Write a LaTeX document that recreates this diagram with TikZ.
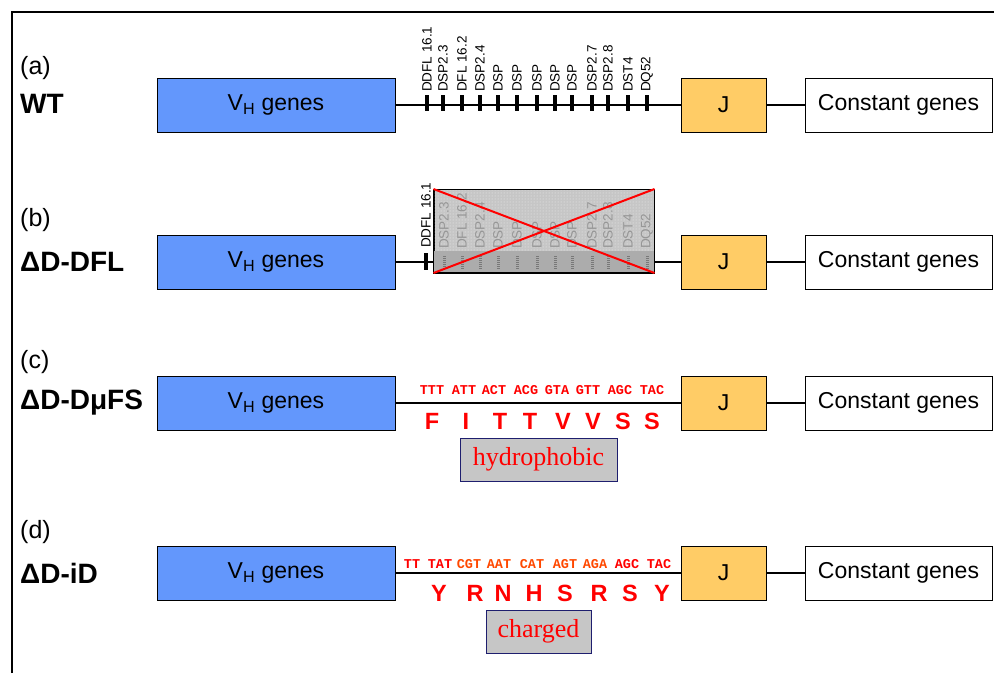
\documentclass[tikz,border=0pt]{standalone}
\usepackage{fontspec}
\setmainfont{Liberation Sans}
\newfontfamily\codonfont{Liberation Mono}
\newfontfamily\romanfont{Liberation Serif}
\usetikzlibrary{patterns,positioning}
\definecolor{vhblue}{RGB}{99,151,252}
\definecolor{jyellow}{RGB}{255,204,102}
\definecolor{delgray}{RGB}{198,198,198}
\definecolor{stripgray}{RGB}{172,172,172}
\definecolor{fadegray}{RGB}{150,150,150}
\definecolor{codonorange}{RGB}{255,72,0}
\definecolor{boxnavy}{RGB}{30,30,110}
\newcommand{\fsz}[1]{\fontsize{#1}{#1}\selectfont}
\tikzset{
  gene/.style={draw, line width=1pt, inner sep=0, minimum height=54, font=\fsz{23}},
  vbox/.style={gene, fill=vhblue, minimum width=238},
  jbox/.style={gene, fill=jyellow, minimum width=85},
  cbox/.style={gene, fill=white, minimum width=187},
  geneline/.style={line width=2.5pt},
  segtick/.style={line width=4pt},
  seglabel/.style={rotate=90, anchor=west, inner sep=0, font=\fsz{13.5}},
  fadelabel/.style={seglabel, text=fadegray},
  rowtag/.style={anchor=west, inner sep=0, font=\fsz{25}},
  rowname/.style={anchor=west, inner sep=0, font=\bfseries\fsz{28}},
  codon/.style={inner sep=0, font=\codonfont\bfseries\fsz{13.5}},
  amino/.style={inner sep=0, text=red, font=\bfseries\fsz{23.5}},
  propbox/.style={draw=boxnavy, line width=1pt, fill=delgray, inner sep=0,
    minimum height=43, text=red, font=\romanfont\fsz{26}},
  delbox/.style={draw, line width=1pt, inner sep=0, minimum width=220, minimum height=83}
}

\begin{document}
\begin{tikzpicture}[x=1pt,y=-1pt]
\useasboundingbox (0,0) rectangle (994,673);

% frame
\draw[line width=1.2pt] (12,673) -- (12,12) -- (994,12);

% (a) WT
\node[rowtag] (taga) at (20,68) {(a)};
\node[rowname] (namea) at (20,104) {WT};
\node[vbox] (va) at (276,105) {V\textsubscript{H} genes};
\node[jbox] (ja) at (723.5,105) {J};
\node[cbox] (ca) at (898.5,105) {Constant genes};
\draw[geneline] (va) -- (ja);
\draw[geneline] (ja) -- (ca);
\foreach \x/\lab [count=\i] in {427/DDFL 16.1, 443/DSP2.3, 462/DFL 16.2, 480/DSP2.4,
    498/DSP, 517/DSP, 537/DSP, 555/DSP, 572/DSP, 592/DSP2.7, 608/DSP2.8, 628/DST4, 647/DQ52}{
  \draw[segtick] (\x,95) -- (\x,111);
  \node[seglabel] (la\i) at (\x,92) {\lab};
}

% (b) deletion of the D cluster
\node[rowtag] (tagb) at (20,220) {(b)};
\node[rowname] (nameb) at (20,262) {ΔD-DFL};
\node[vbox] (vb) at (276,262) {V\textsubscript{H} genes};
\node[jbox] (jb) at (723.5,262) {J};
\node[cbox] (cb) at (898.5,262) {Constant genes};
\node[delbox, fill=delgray] (del) at (544,231) {};
\coordinate (dl) at (del.west |- vb);
\coordinate (dr) at (del.east |- vb);
\draw[geneline] (vb.east) -- (dl);
\draw[geneline] (dr) -- (jb.west);
\draw[geneline] (jb) -- (cb);
\draw[segtick] (426,253) -- (426,270);
\node[seglabel] (lb1) at (426,248) {DDFL 16.1};
\begin{scope}
  \clip (del.north west) rectangle (del.south east);
  \fill[pattern=dots, pattern color=white!75!delgray] (del.north west) rectangle (del.south east);
  \fill[stripgray] (434,251) rectangle (654,272);
  \foreach \x/\lab [count=\i] in {444/DSP2.3, 462/DFL 16.2, 480/DSP2.4, 498/DSP, 517/DSP,
      537/DSP, 555/DSP, 572/DSP, 592/DSP2.7, 608/DSP2.8, 628/DST4, 647/DQ52}{
    \draw[fadegray!80!black, line width=3pt, dash pattern=on 1pt off 1pt] (\x,256) -- (\x,270);
    \node[fadelabel] (fb\i) at (\x,249) {\lab};
  }
\end{scope}
\draw[line width=1pt] (del.north west) rectangle (del.south east);
\draw[red, line width=2pt] (del.north west) -- (del.south east);
\draw[red, line width=2pt] (del.south west) -- (del.north east);

% (c) frame-shifted D
\node[rowtag] (tagc) at (20,362) {(c)};
\node[rowname] (namec) at (20,403) {ΔD-DμFS};
\node[vbox] (vc) at (276,403) {V\textsubscript{H} genes};
\node[jbox] (jc) at (723.5,403) {J};
\node[cbox] (cc) at (898.5,403) {Constant genes};
\draw[geneline] (vc) -- (jc);
\draw[geneline] (jc) -- (cc);
\foreach \x/\cod [count=\i] in {432/TTT, 464/ATT, 494/ACT, 526/ACG, 557/GTA, 588/GTT, 620/AGC, 652/TAC}
  \node[codon, text=red] (kc\i) at (\x,390) {\cod};
\foreach \x/\aa [count=\i] in {432/F, 466/I, 500/T, 530/T, 563/V, 593/V, 623/S, 652/S}
  \node[amino] (ac\i) at (\x,421) {\aa};
\node[propbox, minimum width=157] (hyd) at (538.5,459.5) {hydrophobic};

% (d) inverted D
\node[rowtag] (tagd) at (20,532) {(d)};
\node[rowname] (named) at (20,573) {ΔD-iD};
\node[vbox] (vd) at (276,573) {V\textsubscript{H} genes};
\node[jbox] (jd) at (723.5,573) {J};
\node[cbox] (cd) at (898.5,573) {Constant genes};
\draw[geneline] (vd) -- (jd);
\draw[geneline] (jd) -- (cd);
\foreach \x/\cod/\col [count=\i] in {412/TT/red, 440/TAT/red, 469/CGT/codonorange, 499/AAT/codonorange,
    532/CAT/codonorange, 565/AGT/codonorange, 595/AGA/codonorange, 627/AGC/red, 659/TAC/red}
  \node[codon, text=\col] (kd\i) at (\x,564) {\cod};
\foreach \x/\aa [count=\i] in {439/Y, 475/R, 503/N, 534/H, 565/S, 599/R, 630/S, 662/Y}
  \node[amino] (ad\i) at (\x,593) {\aa};
\node[propbox, minimum width=105] (chg) at (538.5,631.5) {charged};

\end{tikzpicture}
\end{document}
